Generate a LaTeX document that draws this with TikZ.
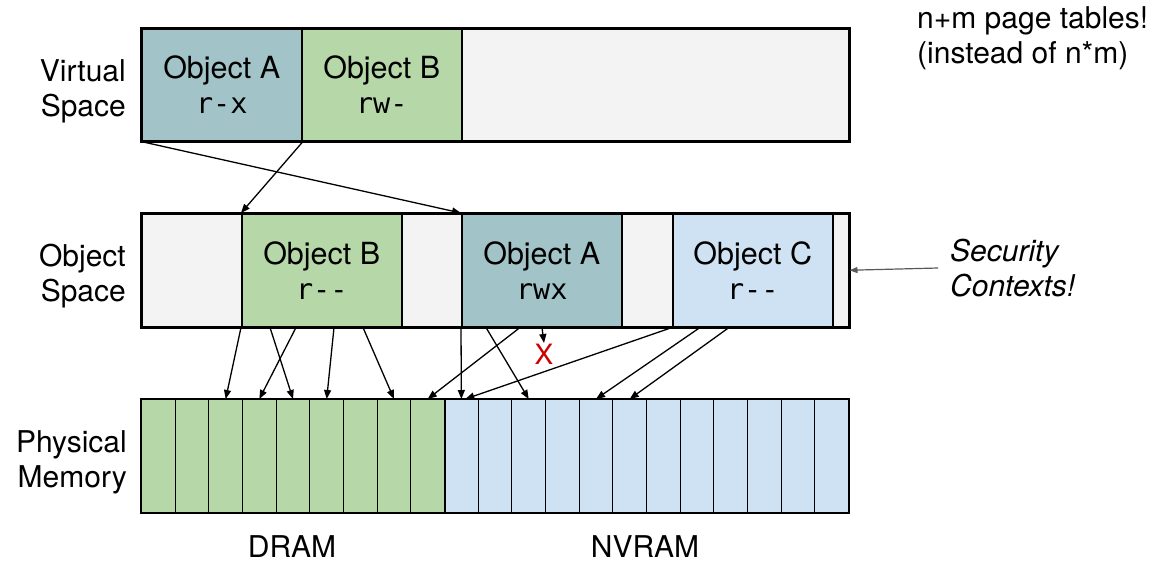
\documentclass[tikz,border=0pt]{standalone}
\usepackage{fontspec}
\setmainfont{TeX Gyre Heros}
\setmonofont{DejaVu Sans Mono}
\usetikzlibrary{arrows.meta}
\definecolor{objA}{HTML}{A2C4C9}
\definecolor{objB}{HTML}{B6D7A8}
\definecolor{objC}{HTML}{CFE2F3}
\definecolor{freegrey}{HTML}{F3F3F3}
\definecolor{xred}{HTML}{CC0000}
\definecolor{ctxgrey}{HTML}{595959}
\newcommand{\permtext}[1]{{\ttfamily\fontsize{28.5}{35}\selectfont #1}}
\tikzset{
  seg/.style={draw, line width=1.5pt, anchor=north west, inner sep=0pt,
    minimum height=112pt, align=center, font=\fontsize{30.5}{35}\selectfont},
  cell/.style={draw, line width=1pt, anchor=north west, inner sep=0pt,
    minimum width=33.67pt, minimum height=113pt},
  frame/.style={draw, line width=2pt},
  map/.style={-{Triangle[length=9pt,width=7pt]}, line width=1.3pt},
  lbl/.style={align=right, anchor=east, inner sep=0pt, font=\fontsize{30}{35}\selectfont},
}
\begin{document}
\begin{tikzpicture}[x=1pt,y=-1pt]
        \useasboundingbox (0,0) rectangle (1174,565);
        % virtual space
        \node[seg, fill=objA, minimum width=160pt] (vA) at (141,28) {Object A\\\permtext{r-x}};
        \node[seg, fill=objB, minimum width=160pt] (vB) at (301,28) {Object B\\\permtext{rw-}};
        \node[seg, fill=freegrey, minimum width=387pt] (vFree) at (461,28) {};
        \draw[frame] (vA.north west) rectangle (vFree.south east);
        % object space
        \node[seg, fill=freegrey, minimum width=100pt, minimum height=113pt] (oFree1) at (141,213) {};
        \node[seg, fill=objB, minimum width=160pt, minimum height=113pt] (oB) at (241,213) {Object B\\\permtext{r--}};
        \node[seg, fill=freegrey, minimum width=60pt, minimum height=113pt] (oFree2) at (401,213) {};
        \node[seg, fill=objA, minimum width=160pt, minimum height=113pt] (oA) at (461,213) {Object A\\\permtext{rwx}};
        \node[seg, fill=freegrey, minimum width=51pt, minimum height=113pt] (oFree3) at (621,213) {};
        \node[seg, fill=objC, minimum width=160pt, minimum height=113pt] (oC) at (672,213) {Object C\\\permtext{r--}};
        \node[seg, fill=freegrey, minimum width=16pt, minimum height=113pt] (oFree4) at (832,213) {};
        \draw[frame] (oFree1.north west) rectangle (oFree4.south east);
        % physical memory
        \foreach \i in {1,...,21} {
            \ifnum\i<10 \def\cellcol{objB}\else\def\cellcol{objC}\fi
            \node[cell, fill=\cellcol] (m\i) at ({141+(\i-1)*33.67},399) {};
        }
        \draw[frame] (m1.north west) rectangle (m21.south east);
        \draw[frame] (m9.north east) -- (m9.south east);
        % labels
        \node[lbl] (virtLbl) at (126,91) {Virtual\\Space};
        \node[lbl] (objLbl) at (126,276) {Object\\Space};
        \node[lbl] (physLbl) at (127,462) {Physical\\Memory};
        \node[font=\fontsize{30}{35}\selectfont, inner sep=0pt] (dram) at (292,547) {DRAM};
        \node[font=\fontsize{30}{35}\selectfont, inner sep=0pt] (nvram) at (645,547) {NVRAM};
        \node[align=left, anchor=west, inner sep=0pt, font=\fontsize{30}{35}\selectfont] (note) at (917,38) {n+m page tables!\\(instead of n*m)};
        \node[align=left, anchor=west, inner sep=0pt, font=\fontsize{30}{35}\selectfont\itshape] (ctx) at (950,268) {Security\\Contexts!};
        \draw[ctxgrey, line width=1.2pt, -{Triangle[length=8pt,width=6pt]}] ([xshift=-12pt]ctx.west) -- (oFree4.east);
        % virtual -> object
        \draw[map] (vA.south west) -- (oA.north west);
        \draw[map] ([xshift=2pt]vB.south west) -- (oB.north west);
        % object -> physical
        \draw[map] (oB.south west) -- (m3.north);
        \draw[map] ([xshift=29pt]oB.south west) -- (m5.north);
        \draw[map] ([xshift=55pt]oB.south west) -- (m4.north);
        \draw[map] ([xshift=93pt]oB.south west) -- (m6.north);
        \draw[map] ([xshift=122pt]oB.south west) -- (m8.north);
        \draw[map] (oA.south west) -- (m10.north);
        \draw[map] ([xshift=25pt]oA.south west) -- (m12.north);
        \draw[map] ([xshift=59pt]oA.south west) -- (m9.north);
        \coordinate (denied) at (544,343);
        \draw[map] ([xshift=81pt]oA.south west) -- (denied);
        \node[text=xred, inner sep=0pt, font=\fontsize{28}{30}\selectfont] (cross) at (544,354) {X};
        \draw[map] (oC.south west) -- ([xshift=4pt]m10.north);
        \draw[map] ([xshift=28pt]oC.south west) -- (m14.north);
        \draw[map] ([xshift=57pt]oC.south west) -- (m15.north);
    \end{tikzpicture}
\end{document}
